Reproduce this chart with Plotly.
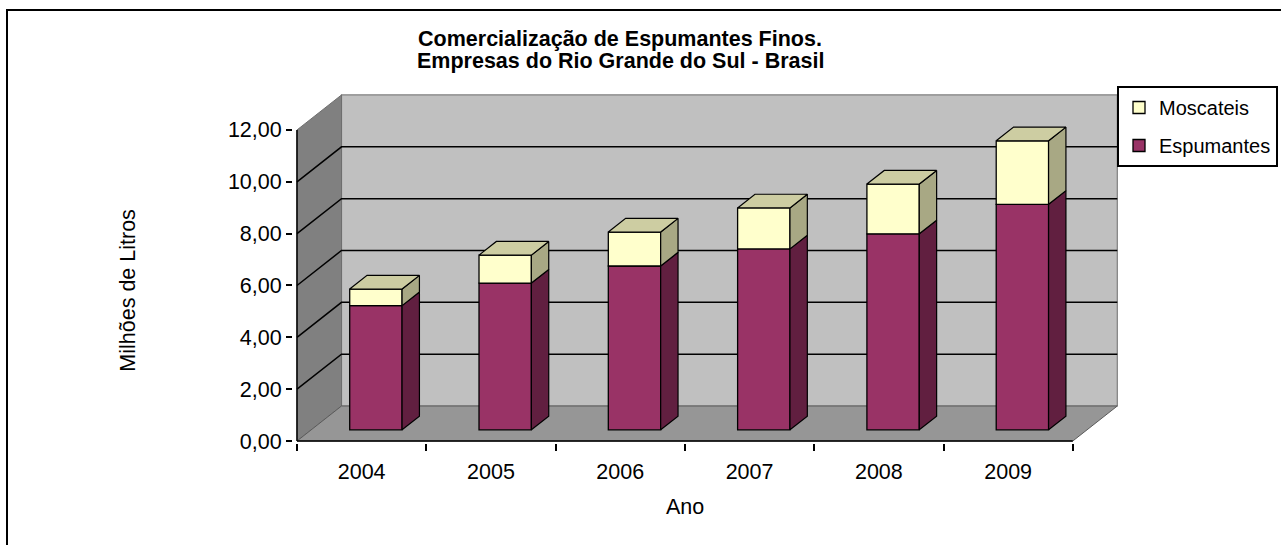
import plotly.graph_objects as go

# ---------------- data ----------------
years = ["2004", "2005", "2006", "2007", "2008", "2009"]
espumantes = [4.79, 5.66, 6.32, 6.98, 7.56, 8.70]
moscateis = [0.64, 1.08, 1.31, 1.58, 1.92, 2.45]
y_ticks = [0, 2, 4, 6, 8, 10, 12]

# ---------------- geometry (pseudo-3D projection) ----------------
W_PX, H_PX = 1281, 545
PX_X = 129.3      # px per category
PX_Y = 25.92      # px per unit
X0_PX, Y0_PX = 297, 441   # pixel of the front origin
DX = 44.5 / PX_X  # depth offset in data units
DY = 35.0 / PX_Y
F0, F1 = 0.32, 0.71   # bar front / back depth fractions
BW = 0.405            # bar width (category units)
N = len(years)
YMAX = 12

m_l, m_r, m_t, m_b = 293, 157, 94, 102
x_range = [(m_l - X0_PX) / PX_X, (W_PX - m_r - X0_PX) / PX_X]
y_range = [(Y0_PX - (H_PX - m_b)) / PX_Y, (Y0_PX - m_t) / PX_Y]
plot_w = W_PX - m_l - m_r
plot_h = H_PX - m_t - m_b


def px_to_paper_x(px):
    return (px - m_l) / plot_w


def px_to_paper_y(py):
    return ((H_PX - m_b) - py) / plot_h


def path(pts):
    return "M " + " L ".join(f"{x},{y}" for x, y in pts) + " Z"


ESP_FRONT, ESP_SIDE = "#993366", "#611F40"
MOS_FRONT, MOS_SIDE, MOS_TOP = "#FFFFCC", "#A8A884", "#CDCDA2"
FONT = "Liberation Sans, Arial, sans-serif"
FS = 21.5

fig = go.Figure()

# ---------------- walls & floor (shapes below traces) ----------------
shapes = []
floor = [(0, 0), (N, 0), (N + DX, DY), (DX, DY)]
left_wall = [(0, 0), (DX, DY), (DX, YMAX + DY), (0, YMAX)]
back_wall = [(DX, DY), (N + DX, DY), (N + DX, YMAX + DY), (DX, YMAX + DY)]
shapes.append(dict(type="path", path=path(back_wall), xref="x", yref="y", layer="below",
                   fillcolor="#C0C0C0", line=dict(color="#7F7F7F", width=1.2)))
shapes.append(dict(type="path", path=path(left_wall), xref="x", yref="y", layer="below",
                   fillcolor="#808080", line=dict(color="#6E6E6E", width=1)))
shapes.append(dict(type="path", path=path(floor), xref="x", yref="y", layer="below",
                   fillcolor="#969696", line=dict(color="#5A5A5A", width=1)))
for v in y_ticks[1:-1]:
    shapes.append(dict(type="path",
                       path=f"M 0,{v} L {DX},{v + DY} L {N + DX},{v + DY}",
                       xref="x", yref="y", layer="below",
                       line=dict(color="black", width=1.5)))
# front axis lines
shapes.append(dict(type="line", x0=0, y0=0, x1=0, y1=YMAX, xref="x", yref="y",
                   layer="above", line=dict(color="black", width=1.5)))
shapes.append(dict(type="line", x0=0, y0=0, x1=N, y1=0, xref="x", yref="y",
                   layer="above", line=dict(color="black", width=1.5)))
# outer chart frame
shapes.append(dict(type="rect", xref="paper", yref="paper",
                   x0=px_to_paper_x(7), y0=px_to_paper_y(560),
                   x1=px_to_paper_x(1300), y1=px_to_paper_y(10),
                   line=dict(color="black", width=2), fillcolor="rgba(0,0,0,0)"))

# ---------------- bar front faces ----------------
xc = [i + 0.5 + F0 * DX for i in range(N)]
base_esp = [F0 * DY] * N
base_mos = [F0 * DY + e for e in espumantes]

fig.add_trace(go.Bar(x=xc, y=espumantes, base=base_esp, width=BW, name="Espumantes",
                     marker=dict(color=ESP_FRONT, line=dict(color="black", width=1.3)),
                     legendrank=2, legendgroup="e"))
fig.add_trace(go.Bar(x=xc, y=moscateis, base=base_mos, width=BW, name="Moscateis",
                     marker=dict(color=MOS_FRONT, line=dict(color="black", width=1.3)),
                     legendrank=1, legendgroup="m"))


# ---------------- side & top faces ----------------
def side_poly(i, lo, hi):
    xr = i + 0.5 + BW / 2
    return [(xr + F0 * DX, lo + F0 * DY), (xr + F0 * DX, hi + F0 * DY),
            (xr + F1 * DX, hi + F1 * DY), (xr + F1 * DX, lo + F1 * DY),
            (xr + F0 * DX, lo + F0 * DY)]


def top_poly(i, hi):
    xl = i + 0.5 - BW / 2
    xr = i + 0.5 + BW / 2
    return [(xl + F0 * DX, hi + F0 * DY), (xr + F0 * DX, hi + F0 * DY),
            (xr + F1 * DX, hi + F1 * DY), (xl + F1 * DX, hi + F1 * DY),
            (xl + F0 * DX, hi + F0 * DY)]


def poly_trace(polys, color):
    xs, ys = [], []
    for p in polys:
        xs += [q[0] for q in p] + [None]
        ys += [q[1] for q in p] + [None]
    return go.Scatter(x=xs, y=ys, mode="lines", fill="toself", fillcolor=color,
                      line=dict(color="black", width=1.2), hoverinfo="skip",
                      showlegend=False)


esp_side = [side_poly(i, 0, espumantes[i]) for i in range(N)]
mos_side = [side_poly(i, espumantes[i], espumantes[i] + moscateis[i]) for i in range(N)]
mos_top = [top_poly(i, espumantes[i] + moscateis[i]) for i in range(N)]
fig.add_trace(poly_trace(esp_side, ESP_SIDE))
fig.add_trace(poly_trace(mos_side, MOS_SIDE))
fig.add_trace(poly_trace(mos_top, MOS_TOP))

# ---------------- layout ----------------
fig.update_layout(
    width=W_PX, height=H_PX,
    margin=dict(l=m_l, r=m_r, t=m_t, b=m_b, autoexpand=False),
    paper_bgcolor="white", plot_bgcolor="rgba(0,0,0,0)",
    barmode="overlay",
    separators=",.",
    font=dict(family=FONT, size=FS, color="black"),
    shapes=shapes,
    title=dict(text="<b>Comercialização de Espumantes Finos.</b>",
               font=dict(family=FONT, size=21.5, color="black"),
               x=px_to_paper_x(620), xref="paper", xanchor="center",
               y=1 - 38 / H_PX, yref="container", yanchor="middle"),
    annotations=[
        dict(text="<b>Empresas do Rio Grande do Sul - Brasil</b>", xref="paper", yref="paper",
             x=px_to_paper_x(620), y=px_to_paper_y(61), xanchor="center", yanchor="middle",
             showarrow=False, font=dict(family=FONT, size=21.5, color="black")),
        dict(text="Milhões de Litros", xref="paper", yref="y",
             x=px_to_paper_x(128), y=5.8, xanchor="center", yanchor="middle",
             textangle=-90, showarrow=False, font=dict(family=FONT, size=FS, color="black")),
        dict(text="Ano", xref="x", yref="paper",
             x=3.0, y=px_to_paper_y(507), xanchor="center", yanchor="middle",
             showarrow=False, font=dict(family=FONT, size=FS, color="black")),
    ],
    legend=dict(x=px_to_paper_x(1117), y=px_to_paper_y(86), xanchor="left", yanchor="top",
                bgcolor="white", bordercolor="black", borderwidth=2,
                font=dict(family=FONT, size=20, color="black"),
                traceorder="grouped", tracegroupgap=9, itemclick=False),
    showlegend=True,
)

fig.update_xaxes(range=x_range, showgrid=False, zeroline=False, showline=False,
                 tickmode="array", tickvals=[i + 0.5 for i in range(N)], ticktext=years,
                 ticks="outside", ticklen=9, tickcolor="rgba(0,0,0,0)",
                 tickfont=dict(family=FONT, size=FS, color="black"),
                 minor=dict(tickmode="array", tickvals=list(range(N + 1)), ticks="outside",
                            ticklen=7, tickwidth=1.5, tickcolor="black", showgrid=False),
                 fixedrange=True)
fig.update_yaxes(range=y_range, showgrid=False, zeroline=False, showline=False,
                 tickmode="array", tickvals=y_ticks, tickformat=".2f",
                 ticks="outside", ticklen=6, tickwidth=1.5, tickcolor="black",
                 tickfont=dict(family=FONT, size=FS, color="black"),
                 fixedrange=True)

fig.write_html("out.html", config={"displayModeBar": False},
               post_script="document.body.style.margin='0px';document.body.style.padding='0px';")
